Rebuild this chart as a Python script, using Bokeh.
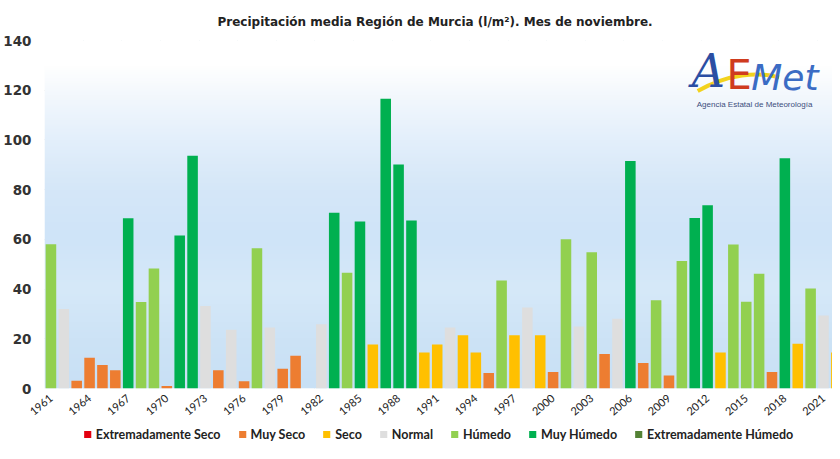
import numpy as np
from bokeh.plotting import figure
from bokeh.layouts import column
from bokeh.models import (ColumnDataSource, FixedTicker, Legend, LegendItem,
                          Label, Range1d)
from bokeh.embed import file_html
from bokeh.resources import INLINE

# ---------------- data ----------------
years = list(range(1961, 2023))
precip = [58.0, 32.0, 3.1, 12.4, 9.5, 7.3, 68.5, 34.8, 48.3, 1.0,
          61.6, 93.6, 33.2, 7.3, 23.6, 2.9, 56.4, 24.5, 7.9, 13.2,
          0.0, 25.8, 70.7, 46.6, 67.2, 17.7, 116.6, 90.1, 67.6, 14.5,
          17.7, 24.5, 21.4, 14.5, 6.2, 43.4, 21.4, 32.6, 21.4, 6.6,
          60.0, 24.9, 54.8, 13.9, 28.1, 91.5, 10.3, 35.5, 5.2, 51.3,
          68.6, 73.7, 14.5, 57.9, 34.9, 46.2, 6.6, 92.6, 18.0, 40.2,
          29.4, 14.5]
category = ["Húmedo", "Normal", "Muy Seco", "Muy Seco", "Muy Seco", "Muy Seco", "Muy Húmedo", "Húmedo", "Húmedo", "Muy Seco",
            "Muy Húmedo", "Muy Húmedo", "Normal", "Muy Seco", "Normal", "Muy Seco", "Húmedo", "Normal", "Muy Seco", "Muy Seco",
            "Extremadamente Seco", "Normal", "Muy Húmedo", "Húmedo", "Muy Húmedo", "Seco", "Muy Húmedo", "Muy Húmedo", "Muy Húmedo", "Seco",
            "Seco", "Normal", "Seco", "Seco", "Muy Seco", "Húmedo", "Seco", "Normal", "Seco", "Muy Seco",
            "Húmedo", "Normal", "Húmedo", "Muy Seco", "Normal", "Muy Húmedo", "Muy Seco", "Húmedo", "Muy Seco", "Húmedo",
            "Muy Húmedo", "Muy Húmedo", "Seco", "Húmedo", "Húmedo", "Húmedo", "Muy Seco", "Muy Húmedo", "Seco", "Húmedo",
            "Normal", "Seco"]
cat_names = ["Extremadamente Seco", "Muy Seco", "Seco", "Normal",
             "Húmedo", "Muy Húmedo", "Extremadamente Húmedo"]
cat_colors = ["#e3000f", "#ed7d31", "#ffc000", "#dedede",
              "#92d050", "#00b050", "#548235"]
tick_years = list(range(1961, 2022, 3))
y_ticks = [0, 20, 40, 60, 80, 100, 120, 140]

title_text = "Precipitación media Región de Murcia (l/m²). Mes de noviembre."

X0, X1 = 1960.5, 2021.7
Y0, Y1 = 0, 140

p = figure(width=832, height=422, output_backend="svg", toolbar_location=None,
           x_range=Range1d(X0, X1), y_range=Range1d(Y0, Y1),
           min_border_left=0, min_border_right=0,
           min_border_top=0, min_border_bottom=0)
p.background_fill_color = "white"
p.border_fill_color = "white"
p.outline_line_color = None

# background gradient (decoration)
stops_v = [0, 20, 40, 60, 80, 100, 118, 130, 140]
stops_c = ["#c8e0f5", "#cde3f6", "#d6e9f9", "#cfe4f8", "#d5e7f8",
           "#e3effb", "#f3f8fd", "#ffffff", "#ffffff"]
def hx(c):
    return [int(c[i:i + 2], 16) for i in (1, 3, 5)]
rgb = np.array([hx(c) for c in stops_c], dtype=float)
N = 300
yy = np.linspace(Y0, Y1, N)
img = np.zeros((N, 1), dtype=np.uint32)
view = img.view(dtype=np.uint8).reshape((N, 1, 4))
for k in range(3):
    view[:, 0, k] = np.interp(yy, stops_v, rgb[:, k]).astype(np.uint8)
view[:, 0, 3] = 255
p.image_rgba(image=[img], x=X0, y=Y0, dw=X1 - X0, dh=Y1 - Y0)

# bars
for name, col in zip(cat_names, cat_colors):
    xs = [y for y, c in zip(years, category) if c == name]
    vs = [v for v, c in zip(precip, category) if c == name]
    src = ColumnDataSource(dict(x=xs, top=vs))
    p.vbar(x="x", top="top", width=0.82, bottom=0, source=src,
           fill_color=col, line_color=None)

# axes
p.xaxis.ticker = FixedTicker(ticks=tick_years)
p.xaxis.major_label_orientation = 0.7
p.xaxis.major_label_text_font = "Lato"
p.xaxis.major_label_text_font_size = "11px"
p.xaxis.major_label_text_color = "#222222"
p.xaxis.major_label_standoff = 8
p.xaxis.major_tick_out = 0
p.xaxis.major_tick_in = 0
p.xaxis.minor_tick_out = 0
p.xaxis.minor_tick_in = 0
p.xaxis.axis_label_standoff = 0
p.xaxis.axis_line_color = None
p.xaxis.major_tick_line_color = None
p.xaxis.minor_tick_line_color = None

p.yaxis.ticker = FixedTicker(ticks=y_ticks)
p.yaxis.major_label_text_font = "DejaVu Sans"
p.yaxis.major_label_text_font_style = "bold"
p.yaxis.major_label_text_font_size = "13.5px"
p.yaxis.major_label_text_color = "#333333"
p.yaxis.major_label_standoff = 13
p.yaxis.major_tick_out = 0
p.yaxis.major_tick_in = 0
p.yaxis.minor_tick_out = 0
p.yaxis.minor_tick_in = 0
p.yaxis.axis_line_color = None
p.yaxis.major_tick_line_color = None
p.yaxis.minor_tick_line_color = None

p.xgrid.ticker = FixedTicker(ticks=[t - 0.5 for t in tick_years])
p.xgrid.grid_line_color = "#d4dde6"
p.ygrid.grid_line_color = "#d9d9d9"

# title
p.title.text = title_text
p.title.text_font = "DejaVu Sans"
p.title.text_font_style = "bold"
p.title.text_font_size = "12px"
p.title.text_color = "#222222"
p.title.align = "left"
p.title.offset = 173
p.title.standoff = 24

# logo (decoration)
def dx(px):
    return X0 + (px - 45) * (X1 - X0) / 795.0
def dy(py):
    return (400.3 - py) * 140 / 358.3
p.bezier(x0=dx(704), y0=dy(94), x1=dx(786), y1=dy(80), cx0=dx(735), cy0=dy(76),
         cx1=dx(765), cy1=dy(74), line_color="#f2d21c", line_width=4)
p.add_layout(Label(x=dx(698), y=dy(101), text="A", text_font="DejaVu Serif",
                   text_font_style="italic", text_font_size="46px",
                   text_color="#2b4ea3"))
p.add_layout(Label(x=dx(733), y=dy(101), text="E", text_font="DejaVu Sans",
                   text_font_style="normal", text_font_size="40px",
                   text_color="#cf3b1e"))
p.add_layout(Label(x=dx(758), y=dy(101), text="Met", text_font="DejaVu Sans",
                   text_font_style="italic", text_font_size="36px",
                   text_color="#3b6cc4"))
p.add_layout(Label(x=dx(703), y=dy(113), text="Agencia Estatal de Meteorología",
                   text_font="Liberation Sans", text_font_size="8px",
                   text_color="#3d4f7c"))

# legend strip (separate small figure below the chart)
lg = figure(width=832, height=24, output_backend="svg", toolbar_location=None,
            x_range=Range1d(0, 1), y_range=Range1d(0, 1),
            x_axis_location=None, y_axis_location=None,
            min_border_left=0, min_border_right=0,
            min_border_top=0, min_border_bottom=0)
lg.outline_line_color = None
lg.grid.visible = False
lg.background_fill_color = "white"
lg.border_fill_color = "white"
items = []
for name, col in zip(cat_names, cat_colors):
    proxy = lg.vbar(x=[float("nan")], top=[float("nan")], width=0.1,
                    fill_color=col, line_color=None)
    items.append(LegendItem(label=name, renderers=[proxy]))
legend = Legend(items=items, orientation="horizontal", location="center",
                label_text_font="Lato", label_text_font_style="bold",
                label_text_font_size="12.5px", label_text_color="#222222",
                glyph_width=9, glyph_height=9, label_standoff=4, spacing=17,
                label_height=14, padding=1, margin=0, border_line_color=None,
                background_fill_alpha=0)
lg.add_layout(legend)

open("out.html", "w").write(file_html(column(p, lg, spacing=0), INLINE))
